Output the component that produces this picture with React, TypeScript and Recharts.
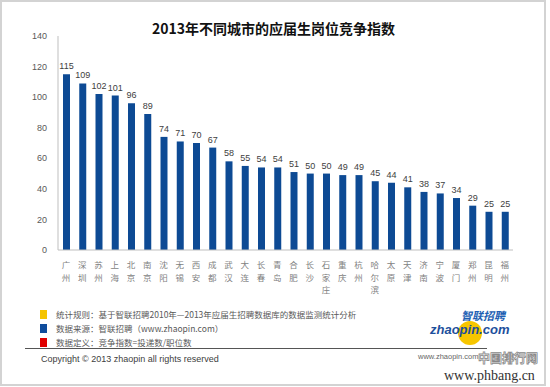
import React from 'react';
import { BarChart, Bar, XAxis, YAxis, LabelList } from 'recharts';

// 城市与竞争指数
const cities = ['广州', '深圳', '苏州', '上海', '北京', '南京', '沈阳', '无锡', '西安', '成都', '武汉', '大连', '长春', '青岛', '合肥', '长沙', '石家庄', '重庆', '杭州', '哈尔滨', '太原', '天津', '济南', '宁波', '厦门', '郑州', '昆明', '福州'];
const indexValues = [115, 109, 102, 101, 96, 89, 74, 71, 70, 67, 58, 55, 54, 54, 51, 50, 50, 49, 49, 45, 44, 41, 38, 37, 34, 29, 25, 25];
const yTicks = [0, 20, 40, 60, 80, 100, 120, 140];

const notes = [
  { color: '#f5c400', text: '统计规则：基于智联招聘2010年—2013年应届生招聘数据库的数据监测统计分析' },
  { color: '#0f4c9c', text: '数据来源：智联招聘（www.zhaopin.com）' },
  { color: '#e00000', text: '数据定义：竞争指数=投递数/职位数' },
];

const data = cities.map((city, i) => ({ city, value: indexValues[i] }));

const CJK = '"Noto Sans CJK SC", "Noto Sans", sans-serif';

// 竖排城市名
const VerticalTick = ({ x, y, payload }: any) => {
  const chars = String(payload.value).split('');
  return (
    <g>
      {chars.map((c, i) => (
        <text key={i} x={x} y={y + 18 + i * 12.5} fill="#7f7f7f" fontSize={8.5} fontFamily={CJK} textAnchor="middle">
          {c}
        </text>
      ))}
    </g>
  );
};

export default function App() {
  return (
    <div style={{ position: 'fixed', left: 0, top: 0, width: 550, height: 387, background: '#fff', overflow: 'hidden' }}>
      <div style={{ position: 'absolute', left: 0, top: 0, width: 542, height: 382, border: '2px solid #d3d3d3' }} />
      <div
        style={{
          position: 'absolute', left: 0, width: 547, top: 18, textAlign: 'center',
          fontFamily: CJK, fontWeight: 'bold', fontSize: 14, color: '#111', lineHeight: '20px',
        }}
      >
        2013年不同城市的应届生岗位竞争指数
      </div>
      <div style={{ position: 'absolute', left: 0, top: 0 }}>
        <BarChart width={550} height={387} data={data} margin={{ top: 36, right: 37, left: 0, bottom: 87 }}>
          <YAxis
            width={58}
            domain={[0, 140]}
            ticks={yTicks}
            tickLine={false}
            tickMargin={5}
            axisLine={{ stroke: '#bfbfbf' }}
            tick={{ fontSize: 9, fill: '#595959', fontFamily: '"Liberation Sans", sans-serif' }}
          />
          <XAxis
            dataKey="city"
            height={50}
            interval={0}
            tickLine={false}
            tickSize={0}
            tickMargin={0}
            axisLine={{ stroke: '#bfbfbf' }}
            tick={<VerticalTick />}
          />
          <Bar dataKey="value" fill="#0d4a94" barSize={7} isAnimationActive={false}>
            <LabelList
              dataKey="value"
              position="top"
              offset={5}
              fill="#404040"
              fontSize={9}
              fontFamily='"Liberation Sans", sans-serif'
            />
          </Bar>
        </BarChart>
      </div>
      {notes.map((n, i) => (
        <div key={i} style={{ position: 'absolute', left: 40, top: 308 + i * 14, height: 12, display: 'flex', alignItems: 'center' }}>
          <div style={{ width: 7, height: 9, background: n.color, marginRight: 9 }} />
          <span style={{ fontFamily: CJK, fontSize: 8.5, color: '#595959', whiteSpace: 'nowrap', lineHeight: '12px' }}>{n.text}</span>
        </div>
      ))}
      <div style={{ position: 'absolute', left: 25, top: 348, width: 462, height: 1, background: '#555' }} />
      <div style={{ position: 'absolute', left: 41, top: 354, fontFamily: '"Liberation Sans", sans-serif', fontSize: 9, color: '#404040', lineHeight: '11px' }}>
        Copyright © 2013 zhaopin all rights reserved
      </div>
      {/* 智联招聘 logo */}
      <div style={{ position: 'absolute', left: 458, top: 321, width: 24, height: 24, borderRadius: 12, background: '#f7c600' }} />
      <div style={{ position: 'absolute', left: 461, top: 309, fontFamily: CJK, fontWeight: 'bold', fontStyle: 'italic', fontSize: 11, color: '#1d5fb3', lineHeight: '12px' }}>
        智联招聘
      </div>
      <div style={{ position: 'absolute', left: 430, top: 323, fontFamily: '"Liberation Sans", sans-serif', fontWeight: 'bold', fontStyle: 'italic', fontSize: 13, color: '#1d4f9c', lineHeight: '14px' }}>
        zhaopin.com
      </div>
      <div style={{ position: 'absolute', left: 418, top: 352, fontFamily: '"Liberation Sans", sans-serif', fontSize: 7.5, color: '#666', lineHeight: '9px' }}>
        www.zhaopin.com
      </div>
      <div style={{ position: 'absolute', left: 478, top: 350, fontFamily: CJK, fontWeight: 'bold', fontSize: 12, color: '#fff', WebkitTextStroke: '0.8px #888', lineHeight: '16px' }}>
        中国排行网
      </div>
      <div style={{ position: 'absolute', left: 444, top: 368, fontFamily: '"Liberation Serif", serif', fontSize: 14, color: '#333', lineHeight: '15px' }}>
        www.phbang.cn
      </div>
    </div>
  );
}
